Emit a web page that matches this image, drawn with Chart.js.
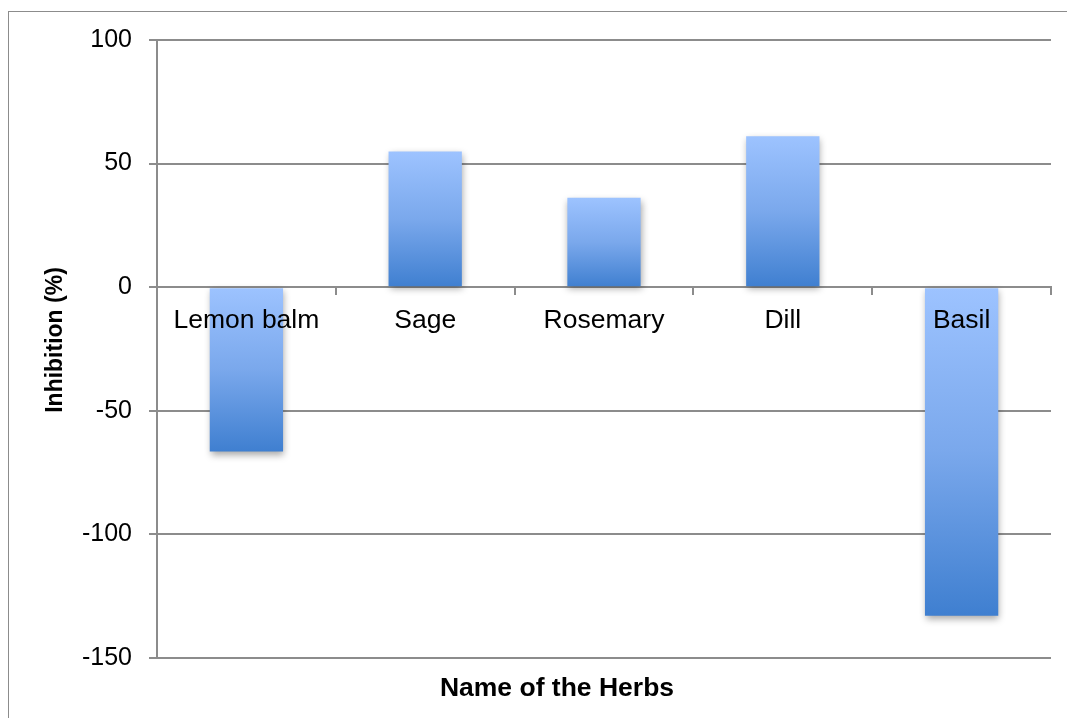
<!DOCTYPE html>
<html>
<head>
<meta charset="utf-8">
<script src="https://cdn.jsdelivr.net/npm/chart.js@4.4.1/dist/chart.umd.min.js"></script>
<style>
  html, body { margin: 0; padding: 0; background: #fff; overflow: hidden; }
  #wrap { position: relative; width: 1067px; height: 718px; }
  #frame { position: absolute; left: 8px; top: 11px; width: 1300px; height: 900px;
           border-left: 1px solid #8c8c8c; border-top: 1px solid #8c8c8c; }
  canvas { position: absolute; left: 0; top: 0; }
</style>
</head>
<body>
<div id="wrap">
  <div id="frame"></div>
  <canvas id="chart" width="1067" height="718"></canvas>
</div>
<script>
// Inhibition of each herb extract, in percent
const herbs = ['Lemon balm', 'Sage', 'Rosemary', 'Dill', 'Basil'];
const inhibition = [-66.5, 54.9, 36.2, 61.1, -132.9];
const yTicks = [100, 50, 0, -50, -100, -150];

const xTitle = 'Name of the Herbs';
const yTitle = 'Inhibition (%)';

const FONT = '"Liberation Sans", Arial, Helvetica, sans-serif';
const AXIS_GREY = '#8c8c8c';

// Soft drop shadow under the bars
const barShadow = {
  id: 'barShadow',
  beforeDatasetDraw(chart) {
    const ctx = chart.ctx;
    ctx.save();
    ctx.shadowColor = 'rgba(0,0,0,0.35)';
    ctx.shadowBlur = 7;
    ctx.shadowOffsetX = 1;
    ctx.shadowOffsetY = 3;
  },
  afterDatasetDraw(chart) {
    chart.ctx.restore();
  }
};

// Axis titles
const axisTitles = {
  id: 'axisTitles',
  afterDraw(chart) {
    const ctx = chart.ctx;
    ctx.save();
    ctx.fillStyle = '#000';
    ctx.textAlign = 'center';
    ctx.textBaseline = 'middle';
    ctx.font = 'bold 26.5px ' + FONT;
    ctx.fillText(xTitle, 557, 689);
    ctx.translate(56, 340);
    ctx.rotate(-Math.PI / 2);
    ctx.font = 'bold 23px ' + FONT;
    ctx.fillText(yTitle, 0, 0);
    ctx.restore();
  }
};

function barGradient(context) {
  const chart = context.chart;
  const area = chart.chartArea;
  const i = context.dataIndex;
  if (!area || i === undefined) return '#6a9ee8';
  const ys = chart.scales.y;
  const p0 = ys.getPixelForValue(0);
  const p1 = ys.getPixelForValue(inhibition[i]);
  const top = Math.min(p0, p1), bot = Math.max(p0, p1);
  const g = chart.ctx.createLinearGradient(0, top, 0, bot);
  g.addColorStop(0, '#9dc3ff');
  g.addColorStop(0.5, '#7aa8ec');
  g.addColorStop(1, '#3f7fd0');
  return g;
}

new Chart(document.getElementById('chart'), {
  type: 'bar',
  data: {
    labels: herbs,
    datasets: [{
      data: inhibition,
      backgroundColor: barGradient,
      borderWidth: 0,
      categoryPercentage: 1.0,
      barPercentage: 0.41
    }]
  },
  options: {
    responsive: false,
    animation: false,
    layout: { padding: { top: 40, right: 16, bottom: 60, left: 0 } },
    plugins: {
      legend: { display: false },
      tooltip: { enabled: false },
      title: { display: false }
    },
    scales: {
      x: {
        position: { y: 0 },
        grid: {
          drawOnChartArea: false,
          drawTicks: true,
          tickLength: 7,
          color: AXIS_GREY,
          lineWidth: 2,
          offset: true
        },
        border: { color: AXIS_GREY, width: 2 },
        ticks: {
          z: 1,
          color: '#000',
          padding: 11,
          maxRotation: 0,
          font: { family: FONT, size: 26.5 }
        }
      },
      y: {
        min: -150,
        max: 100,
        afterFit(scale) { scale.width = 157; },
        afterBuildTicks(scale) { scale.ticks = yTicks.map(v => ({ value: v })); },
        grid: { color: AXIS_GREY, lineWidth: 2, tickLength: 8, drawTicks: true },
        border: { color: AXIS_GREY, width: 2 },
        ticks: {
          color: '#000',
          padding: 17,
          font: { family: FONT, size: 25 }
        }
      }
    }
  },
  plugins: [barShadow, axisTitles]
});
</script>
</body>
</html>
